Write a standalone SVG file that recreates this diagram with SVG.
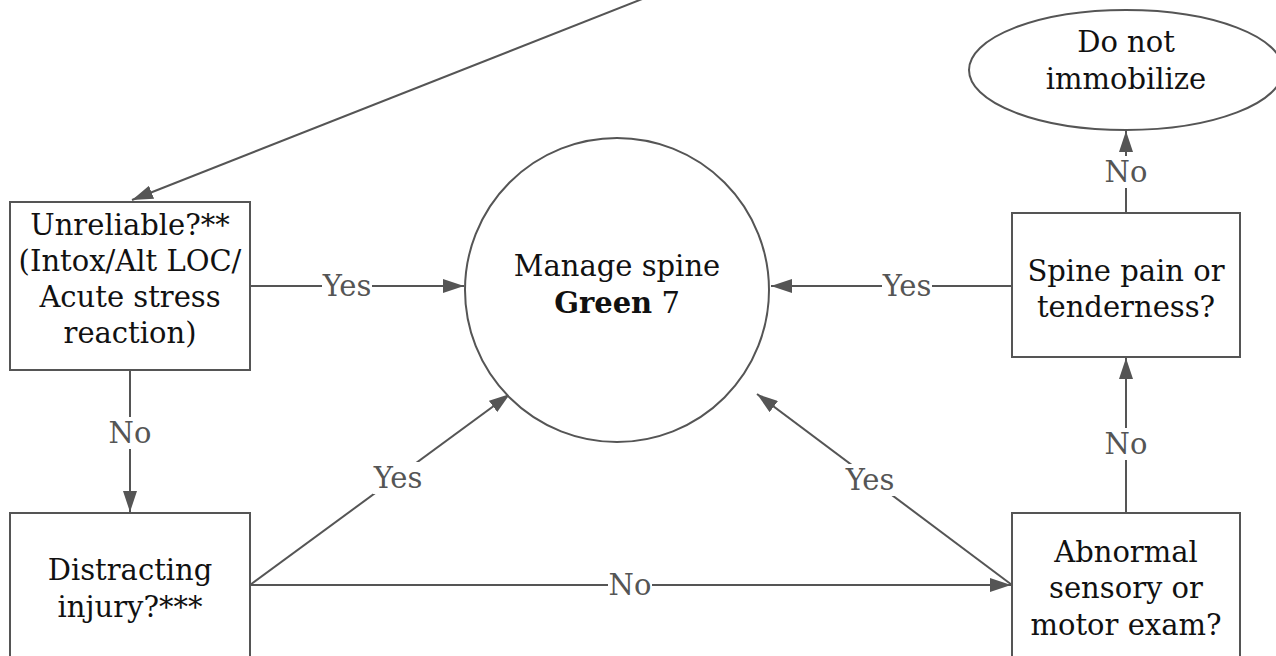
<svg xmlns="http://www.w3.org/2000/svg" width="1276" height="656" viewBox="0 0 1276 656">
<style>
.n{fill:#fff;stroke:#555;stroke-width:2}
.t{font-family:"DejaVu Serif","Liberation Serif",serif;font-size:29px;fill:#111;text-anchor:middle}
.l{font-family:"DejaVu Serif","Liberation Serif",serif;font-size:29px;fill:#555;text-anchor:middle}
.c{fill:none;stroke:#555;stroke-width:2}
.bg{fill:#fff}
</style>
<defs>
<marker id="ah" markerWidth="22" markerHeight="14" refX="21" refY="7" orient="auto" markerUnits="userSpaceOnUse">
<path d="M0,0 L21,7 L0,14 Z" fill="#555"/>
</marker>
</defs>
<rect width="1276" height="656" fill="#fff"/>
<g id="connectors">
<line class="c" x1="660" y1="-8" x2="132" y2="200" marker-end="url(#ah)"/>
<line class="c" x1="250" y1="286" x2="464" y2="286" marker-end="url(#ah)"/>
<line class="c" x1="1012" y1="286" x2="771" y2="286" marker-end="url(#ah)"/>
<line class="c" x1="130" y1="370" x2="130" y2="512" marker-end="url(#ah)"/>
<line class="c" x1="250" y1="585" x2="510" y2="394" marker-end="url(#ah)"/>
<line class="c" x1="1012" y1="585" x2="757" y2="394" marker-end="url(#ah)"/>
<line class="c" x1="250" y1="585" x2="1011" y2="585" marker-end="url(#ah)"/>
<line class="c" x1="1126" y1="513" x2="1126" y2="358" marker-end="url(#ah)"/>
<line class="c" x1="1126" y1="213" x2="1126" y2="131" marker-end="url(#ah)"/>
<rect class="bg" x="322" y="270" width="50" height="32"/>
<text class="l" x="347" y="296">Yes</text>
<rect class="bg" x="882" y="270" width="50" height="32"/>
<text class="l" x="907" y="296">Yes</text>
<rect class="bg" x="108" y="417" width="44" height="32"/>
<text class="l" x="130" y="443">No</text>
<rect class="bg" x="373" y="462" width="50" height="32"/>
<text class="l" x="398" y="488">Yes</text>
<rect class="bg" x="845" y="464" width="50" height="32"/>
<text class="l" x="870" y="490">Yes</text>
<rect class="bg" x="608" y="569" width="44" height="32"/>
<text class="l" x="630" y="595">No</text>
<rect class="bg" x="1104" y="428" width="44" height="32"/>
<text class="l" x="1126" y="454">No</text>
<rect class="bg" x="1104" y="156" width="44" height="32"/>
<text class="l" x="1126" y="182">No</text>
</g>
<g id="unreliable">
<rect class="n" x="10" y="202" width="240" height="168"/>
<text class="t" x="130" y="235">Unreliable?**</text>
<text class="t" x="130" y="271">(Intox/Alt LOC/</text>
<text class="t" x="130" y="307">Acute stress</text>
<text class="t" x="130" y="343">reaction)</text>
</g>
<g id="distracting">
<rect class="n" x="10" y="513" width="240" height="168"/>
<text class="t" x="130" y="580">Distracting</text>
<text class="t" x="130" y="617">injury?***</text>
</g>
<g id="manage">
<circle class="n" cx="617" cy="290" r="152"/>
<text class="t" x="617" y="276">Manage spine</text>
<text class="t" x="617" y="313"><tspan font-weight="bold">Green</tspan> 7</text>
</g>
<g id="spinepain">
<rect class="n" x="1012" y="213" width="228" height="144"/>
<text class="t" x="1126" y="281">Spine pain or</text>
<text class="t" x="1126" y="317">tenderness?</text>
</g>
<g id="abnormal">
<rect class="n" x="1012" y="513" width="228" height="168"/>
<text class="t" x="1126" y="562">Abnormal</text>
<text class="t" x="1126" y="598">sensory or</text>
<text class="t" x="1126" y="635">motor exam?</text>
</g>
<g id="donot">
<ellipse class="n" cx="1126" cy="70" rx="157" ry="60"/>
<text class="t" x="1126" y="52">Do not</text>
<text class="t" x="1126" y="89">immobilize</text>
</g>
</svg>
